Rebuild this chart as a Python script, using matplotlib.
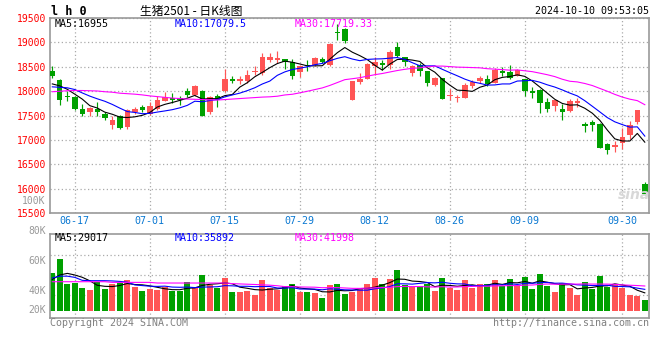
import numpy as np
import pandas as pd
import matplotlib
matplotlib.use("Agg")
import matplotlib.pyplot as plt

# ---------------- data ----------------
holidays = ["2024-09-16", "2024-09-17", "2024-10-01", "2024-10-02",
            "2024-10-03", "2024-10-04", "2024-10-07"]
dates = [d.strftime("%m-%d") for d in pd.bdate_range("2024-06-12", "2024-10-10")
         if d.strftime("%Y-%m-%d") not in holidays]

tick_labels = ["06-17", "07-01", "07-15", "07-29", "08-12", "08-26", "09-09", "09-30"]

opens = [18405, 18222, 17910, 17884, 17639, 17570, 17639, 17544, 17299, 17503,
         17273, 17570, 17672, 17544, 17639, 17794, 17869, 17862, 17998, 17931,
         18012, 17570, 17910, 18012, 18250, 18216, 18202, 18393, 18373, 18630,
         18650, 18658, 18589, 18385, 18542, 18542, 18658, 18542, 19214, 19269,
         17814, 18181, 18250, 18507, 18576, 18542, 18902, 18699, 18373, 18542,
         18405, 18134, 18271, 17896, 17863, 17863, 18114, 18202, 18250, 18169,
         18405, 18385, 18318, 18250, 18012, 18018, 17774, 17692, 17639, 17590,
         17761, 17320, 17367, 17320, 16912, 16857, 16947, 17096, 17367, 16097]
highs = [18507, 18250, 17998, 17897, 17747, 17680, 17774, 17570, 17489, 17523,
         17639, 17680, 17727, 17774, 17910, 17977, 17965, 17910, 18067, 18134,
         18030, 17910, 17951, 18454, 18318, 18303, 18440, 18507, 18780, 18792,
         18833, 18658, 18658, 18542, 18644, 18699, 18699, 18996, 19377, 19289,
         18202, 18373, 18576, 18699, 18630, 18847, 19016, 18699, 18542, 18576,
         18405, 18291, 18271, 18047, 17931, 18169, 18222, 18318, 18338, 18474,
         18494, 18542, 18454, 18250, 18087, 18047, 17863, 17814, 17747, 17843,
         17863, 17367, 17407, 17340, 16947, 16980, 17252, 17387, 17625, 16144]
lows = [18271, 17727, 17794, 17611, 17503, 17489, 17489, 17421, 17232, 17218,
        17218, 17544, 17570, 17523, 17611, 17794, 17761, 17727, 17884, 17910,
        17503, 17544, 17680, 17977, 18169, 18149, 18169, 18338, 18338, 18589,
        18576, 18454, 18250, 18291, 18405, 18521, 18576, 18521, 19051, 18996,
        17814, 18155, 18250, 18338, 18440, 18454, 18699, 18521, 18303, 18318,
        18114, 18100, 17849, 17814, 17774, 17863, 18067, 18169, 18114, 18169,
        18318, 18250, 18303, 17910, 17863, 17558, 17570, 17590, 17421, 17570,
        17680, 17163, 17184, 16845, 16708, 16755, 16824, 17014, 17320, 15870]
closes = [18318, 17814, 17876, 17639, 17544, 17652, 17570, 17456, 17421, 17252,
          17611, 17639, 17611, 17707, 17814, 17884, 17829, 17829, 17931, 18100,
          17503, 17884, 17814, 18250, 18216, 18257, 18338, 18420, 18699, 18699,
          18678, 18589, 18304, 18521, 18507, 18678, 18603, 18970, 19187, 19037,
          18202, 18250, 18562, 18609, 18542, 18813, 18725, 18589, 18521, 18405,
          18169, 18271, 17849, 17931, 17890, 18134, 18181, 18271, 18155, 18440,
          18373, 18271, 18440, 17998, 17965, 17761, 17639, 17814, 17570, 17794,
          17794, 17286, 17306, 16845, 16796, 16892, 17069, 17299, 17625, 15900]
volumes = [63800, 86800, 44800, 47000, 38100, 34700, 48700, 36400, 44800, 47000,
           51500, 40300, 33600, 36400, 34700, 39200, 33000, 33000, 48200, 38100,
           59900, 42600, 37500, 54900, 31400, 31400, 33000, 26300, 51500, 38100,
           34700, 41400, 44800, 31400, 31400, 29700, 21800, 43100, 44800, 28000,
           31900, 38100, 44800, 54900, 44800, 53200, 68300, 42600, 39800, 41400,
           44800, 33000, 54900, 38100, 34700, 51500, 38100, 44800, 44800, 51500,
           41400, 53200, 43100, 56600, 36400, 61600, 41400, 31400, 46500, 38100,
           26300, 48200, 36400, 58200, 39800, 43100, 38100, 26300, 24600, 17900]

# moving-average values for the first days (history before the window)
ma5_head = [18150, 18110, 18040, 17940]
ma10_head = [18090, 18080, 18070, 18035, 17965, 17900, 17845, 17795, 17730]
ma30_head = [17990, 18000, 18010, 18015, 18015, 18010, 18005, 17990, 17980, 17960,
             17950, 17940, 17925, 17905, 17890, 17875, 17860, 17850, 17840, 17835,
             17830, 17825, 17820, 17830, 17840, 17850, 17860, 17870, 17880]
vma5_head = [52600, 60000, 62700, 60000]
vma10_head = [55000, 58000, 58000, 56000, 51000, 50400, 50400, 50400, 50000]
vma30_head = [48700] * 8 + [47600] * 6 + [46500] * 10 + [45500, 45000, 44500, 44000, 43500]

price_labels = ["19500", "19000", "18500", "18000", "17500", "17000", "16500", "16000", "15500"]
vol_labels = ["80K", "60K", "40K", "20K"]


def moving_average(values, n, head):
    v = np.asarray(values, dtype=float)
    out = np.full(len(v), np.nan)
    for i in range(n - 1, len(v)):
        out[i] = v[i - n + 1:i + 1].mean()
    out[:n - 1] = head
    return out


# ---------------- style ----------------
RED = "#ff5555"
GREEN = "#00a000"
GRID = "#aaaaaa"
SPINE = "#999999"
MONO = "DejaVu Sans Mono"
LW = 0.8
W, H = 660, 360


def fx(px):
    return px / W


def fy(py):
    return 1 - py / H


fig = plt.figure(figsize=(6.6, 3.6), dpi=100)
fig.patch.set_facecolor("white")

ax = fig.add_axes([fx(50.5), fy(213.3), fx(649.3 - 50.5), (213.3 - 18) / H])
axv = fig.add_axes([fx(50.5), fy(318.3), fx(649.3 - 50.5), (318.3 - 234.3) / H])

o = np.array(opens, float)
h = np.array(highs, float)
l = np.array(lows, float)
c = np.array(closes, float)
v = np.array(volumes, float)
x = np.arange(len(c))
cols = np.where(c >= o, RED, GREEN)

tick_pos = [dates.index(t) for t in tick_labels]

# ---- main candle panel ----
ax.vlines(x, l, h, colors=cols, lw=0.85, zorder=2)
ax.bar(x, np.maximum(np.abs(c - o), 22), bottom=np.minimum(o, c), width=0.72,
       color=cols, linewidth=0, zorder=3)
ax.plot(x, moving_average(c, 5, ma5_head), color="black", lw=LW, zorder=4)
ax.plot(x, moving_average(c, 10, ma10_head), color="#0000ff", lw=LW, zorder=4)
ax.plot(x, moving_average(c, 30, ma30_head), color="#ff00ff", lw=LW, zorder=4)

ax.set_xlim(-0.24, 79.6)
ax.set_ylim(15500, 19500)
ax.set_yticks([int(s) for s in price_labels])
ax.set_yticklabels(price_labels, fontfamily=MONO, fontsize=7, color="red")
ax.set_xticks(tick_pos)
ax.set_xticklabels(tick_labels, fontfamily=MONO, fontsize=7.2, color="#0a78d2")
ax.tick_params(length=0, pad=3.2)
ax.tick_params(axis="x", pad=2.0)
ax.grid(True, color=GRID, ls=(0, (1, 2)), lw=0.9, zorder=0)
for s in ax.spines.values():
    s.set_color(SPINE)
    s.set_linewidth(1.2)

# ---- volume panel ----
axv.bar(x, v, width=0.8, color=cols, linewidth=0, zorder=2)
axv.plot(x, moving_average(v, 5, vma5_head), color="black", lw=LW, zorder=3)
axv.plot(x, moving_average(v, 10, vma10_head), color="#0000ff", lw=LW, zorder=3)
axv.plot(x, moving_average(v, 30, vma30_head), color="#ff00ff", lw=LW, zorder=3)
axv.set_xlim(-0.24, 79.6)
vscale = 1680.0  # volume per pixel
axv.set_ylim(-(318.3 - 310.7) * vscale, (310.7 - 234.3) * vscale)
axv.set_yticks([(310.7 - py) * vscale for py in (255, 275, 295)])
axv.set_yticklabels([])
axv.set_xticks(tick_pos)
axv.set_xticklabels([])
axv.tick_params(length=0)
axv.grid(True, color=GRID, ls=(0, (1, 2)), lw=0.9, zorder=0)
for s in axv.spines.values():
    s.set_color(SPINE)
    s.set_linewidth(1.2)

tr = axv.get_yaxis_transform()
for lab, py in zip(vol_labels, (231, 260.7, 290.7, 310)):
    axv.text(-4.8 / 598.8, (310.7 - py) * vscale, lab, transform=tr, ha="right",
             va="center", fontfamily=MONO, fontsize=7, color="#999999", clip_on=False)

# ---- texts ----
fig.text(fx(50.7), fy(11.5), "l h 0", fontfamily=MONO, fontweight="bold",
         fontsize=8.5, ha="left", va="center")
fig.text(fx(140), fy(11.5), "生猪2501 - 日K线图",
         fontfamily=["Noto Sans CJK SC", "DejaVu Sans"], fontsize=8.5,
         ha="left", va="center")
fig.text(fx(649), fy(11.5), "2024-10-10 09:53:05", fontfamily=MONO, fontsize=7.2,
         ha="right", va="center")

fig.text(fx(55), fy(23.7), "MA5:16955", fontfamily=MONO, fontsize=7.2, color="black", va="center")
fig.text(fx(175), fy(23.7), "MA10:17079.5", fontfamily=MONO, fontsize=7.2, color="#0000ff", va="center")
fig.text(fx(295), fy(23.7), "MA30:17719.33", fontfamily=MONO, fontsize=7.2, color="#ff00ff", va="center")

fig.text(fx(55), fy(238.3), "MA5:29017", fontfamily=MONO, fontsize=7.2, color="black", va="center")
fig.text(fx(175), fy(238.3), "MA10:35892", fontfamily=MONO, fontsize=7.2, color="#0000ff", va="center")
fig.text(fx(295), fy(238.3), "MA30:41998", fontfamily=MONO, fontsize=7.2, color="#ff00ff", va="center")

fig.text(fx(45.7), fy(200.7), "100K", fontfamily=MONO, fontsize=7, color="#999999",
         ha="right", va="center")

fig.text(fx(634), fy(195), "sina", fontfamily="DejaVu Sans", fontsize=10,
         fontstyle="italic", fontweight="bold", color="#d8d8d8", ha="center", va="center")

fig.text(fx(50), fy(323), "Copyright 2024 SINA.COM", fontfamily=MONO, fontsize=7.2,
         color="#808080", ha="left", va="center")
fig.text(fx(649), fy(323), "http://finance.sina.com.cn", fontfamily=MONO, fontsize=7.2,
         color="#808080", ha="right", va="center")

fig.savefig("out.png", dpi=100, facecolor="white")
